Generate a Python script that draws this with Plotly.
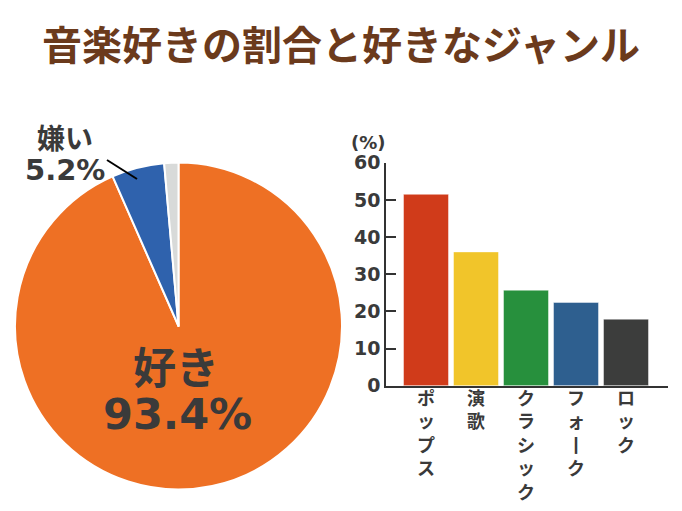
import plotly.graph_objects as go

# Data
pie_labels = ["好き", "嫌い", "その他"]
pie_values = [93.4, 5.2, 1.4]
pie_colors = ["#EE7024", "#2F62AD", "#D8DAD9"]

genres = ["ポップス", "演歌", "クラシック", "フォーク", "ロック"]
genre_values = [51.5, 36.0, 25.7, 22.4, 17.9]
bar_colors = ["#D03B1A", "#F1C52A", "#27903D", "#2E5F8F", "#3C3D3C"]
y_ticks = [0, 10, 20, 30, 40, 50, 60]

W, H = 682, 511
TXT = "#3A3A3A"
JP = "Noto Sans CJK JP"
NUM = "DejaVu Sans, Noto Sans CJK JP"


def px(x):
    return x / W


def py(y):
    return 1 - y / H


def vertical(s):
    return "<br>".join(ch if ch != "ー" else "丨" for ch in s)


fig = go.Figure()

fig.add_trace(go.Pie(
    labels=pie_labels, values=pie_values, sort=False, direction="clockwise",
    rotation=0, marker=dict(colors=pie_colors, line=dict(color="white", width=2)),
    textinfo="none", hoverinfo="skip", showlegend=False, automargin=False,
    domain=dict(x=[px(15), px(342)], y=[py(489.5), py(162.5)]),
))

fig.add_trace(go.Bar(
    x=genres, y=genre_values, marker=dict(color=bar_colors,
                                          line=dict(color="rgba(255,255,255,0.45)", width=1)),
    width=0.9, showlegend=False, hoverinfo="skip",
))

fig.update_layout(
    width=W, height=H, margin=dict(l=0, r=0, t=0, b=0, pad=0, autoexpand=False),
    showlegend=False,
    paper_bgcolor="white", plot_bgcolor="white",
    title=dict(text="音楽好きの割合と好きなジャンル", x=0.5, xanchor="center",
               y=py(46), yanchor="middle", yref="container", automargin=False,
               font=dict(family=JP, size=40, color="#6B3A1C", weight="bold")),
    xaxis=dict(domain=[px(386), px(668)], range=[-0.8, 4.84], automargin=False,
               tickmode="array", tickvals=genres, ticktext=[vertical(g) for g in genres],
               showline=True, linecolor="#333333", linewidth=1.5, ticks="",
               ticklabelstandoff=-4,
               showgrid=False, zeroline=False,
               tickfont=dict(family=JP, size=18, color=TXT, weight="bold")),
    yaxis=dict(domain=[py(385.7), py(162.7)], range=[0, 60], automargin=False,
               tickmode="array", tickvals=y_ticks,
               showline=True, linecolor="#333333", linewidth=1.5,
               ticks="inside", ticklen=10, tickcolor="#333333", tickwidth=1.5,
               showgrid=False, zeroline=False,
               tickfont=dict(family=NUM, size=19, color=TXT, weight="bold")),
)

anns = [
    dict(text="(%)", x=px(368), y=py(142), size=18),
    dict(text="好き", x=px(176), y=py(369), size=43),
    dict(text="93.4%", x=px(177), y=py(414), size=43),
    dict(text="嫌い", x=px(65), y=py(139), size=28),
    dict(text="5.2%", x=px(65), y=py(170), size=29),
]
for a in anns:
    fig.add_annotation(text=a["text"], x=a["x"], y=a["y"], xref="paper", yref="paper",
                       xanchor="center", yanchor="middle", showarrow=False,
                       font=dict(family=NUM, size=a["size"], color=TXT, weight="bold"))

fig.add_shape(type="line", xref="paper", yref="paper",
              x0=px(107), y0=py(160), x1=px(137), y1=py(179),
              line=dict(color="black", width=2))

fig.write_html("out.html")
